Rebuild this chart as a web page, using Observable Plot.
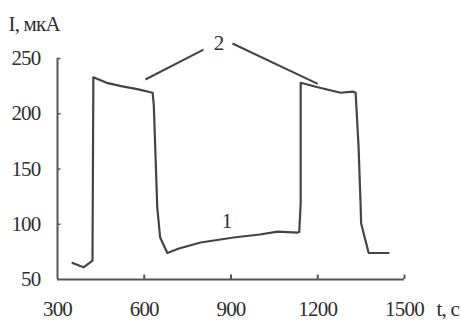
<!DOCTYPE html>
<html><head><meta charset="utf-8">
<script src="https://cdn.jsdelivr.net/npm/d3@7"></script>
<script src="https://cdn.jsdelivr.net/npm/@observablehq/plot@0.6"></script>
<style>body{margin:0;background:#fff} svg text{letter-spacing:-0.8px}</style>
</head><body><div id="chart"></div>
<script>
const tValues = [352, 390, 421, 424, 470, 520, 580, 629, 633, 645, 655, 680, 720, 795, 909, 1000, 1061, 1130, 1136, 1141, 1141, 1200, 1279, 1321, 1331, 1341, 1348, 1350, 1376, 1445];
const iValues = [65, 61, 67, 233, 228, 225, 222, 219, 208, 115, 88, 74, 78, 83.5, 88, 90.7, 93.4, 92.5, 93, 119, 228, 224, 219, 220, 219, 171, 119, 101, 74, 74];
const xTicks = [300, 600, 900, 1200, 1500];
const yTicks = [50, 100, 150, 200, 250];
const xLabel = "t, c";
const yLabel = "I, мкА";
// annotation leader lines for label "2"
const lead = [
  {x1: 604, y1: 231, x2: 805, y2: 258},
  {x1: 905, y1: 263.6, x2: 1200, y2: 227}
];
const notes = [{t: 857, i: 263.6, s: "2"}, {t: 885, i: 103, s: "1"}];

const data = tValues.map((t, k) => ({t, i: iValues[k]}));
const font = "Liberation Serif, Times New Roman, serif";
const ink = "#2e2e2e";

const chart = Plot.plot({
  width: 461, height: 322,
  marginLeft: 57, marginRight: 57, marginTop: 58, marginBottom: 43,
  style: {fontFamily: font, background: "#fff", overflow: "visible"},
  x: {domain: [300, 1500]},
  y: {domain: [50, 250]},
  marks: [
    Plot.axisX({ticks: xTicks, tickFormat: d => String(d), tickSize: 0, tickPadding: 22, fontSize: 21, fill: ink}),
    Plot.axisY({ticks: yTicks, tickFormat: d => String(d), tickSize: 0, tickPadding: 17, fontSize: 21, fill: ink}),
    Plot.ruleY([50], {x1: 300, x2: 1500, stroke: "#555", strokeWidth: 2}),
    Plot.ruleX([300], {y1: 50, y2: 250, stroke: "#555", strokeWidth: 2}),
    Plot.ruleX(xTicks.slice(1), {y1: 50, y2: 54, stroke: "#555", strokeWidth: 2}),
    Plot.ruleY(yTicks.slice(1), {x1: 300, x2: 312, stroke: "#555", strokeWidth: 1.5}),
    Plot.line(data, {x: "t", y: "i", stroke: "#444", strokeWidth: 2.2, curve: "linear"}),
    Plot.link(lead, {x1: "x1", y1: "y1", x2: "x2", y2: "y2", stroke: "#444", strokeWidth: 2, clip: false}),
    Plot.text(notes, {x: "t", y: "i", text: "s", fontSize: 21, fill: ink, clip: false}),
    Plot.text([xLabel], {x: 1500, y: 50, text: d => d, dx: 32, dy: 30, textAnchor: "start", fontSize: 21, fill: ink}),
    Plot.text([yLabel], {x: 300, y: 250, text: d => d, dx: -49, dy: -34, textAnchor: "start", fontSize: 21, fill: ink})
  ]
});
document.getElementById("chart").appendChild(chart);
</script></body></html>
